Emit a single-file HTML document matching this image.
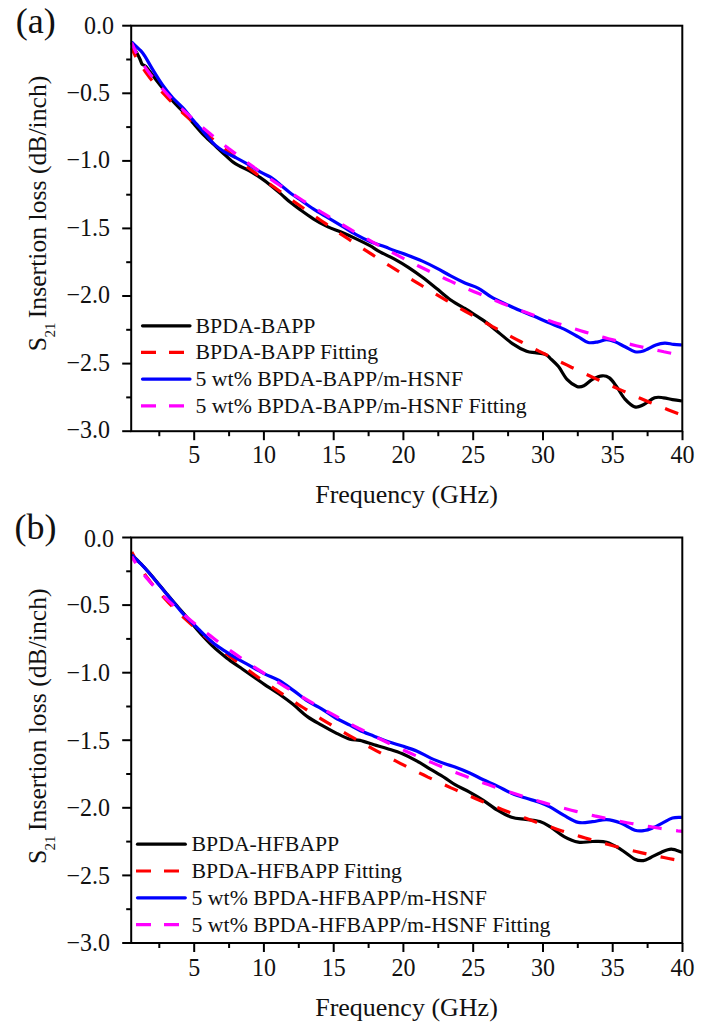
<!DOCTYPE html>
<html><head><meta charset="utf-8"><style>
html,body{margin:0;padding:0;background:#fff;width:707px;height:1032px;overflow:hidden}
svg{display:block}
text{font-family:"Liberation Serif", serif;fill:#111}
</style></head><body>
<svg width="707" height="1032" viewBox="0 0 707 1032">
<g>
<path d="M131.5,42.5 C132.0,43.6 133.4,46.9 134.5,49.0 C135.6,51.1 137.0,53.3 137.9,55.0 C138.8,56.7 139.3,57.7 140.0,59.2 C140.7,60.7 141.2,63.0 142.1,64.2 C143.0,65.4 143.9,64.4 145.7,66.3 C147.5,68.2 150.0,71.9 152.8,75.5 C155.6,79.1 158.7,83.2 162.5,88.0 C166.3,92.8 171.2,99.2 175.5,104.0 C179.8,108.8 185.3,113.6 188.2,116.7 C191.1,119.8 190.2,119.6 192.8,122.7 C195.5,125.8 200.3,131.6 204.1,135.5 C207.9,139.4 211.9,142.8 215.5,146.1 C219.1,149.4 222.1,152.4 225.4,155.3 C228.7,158.2 231.3,161.1 235.3,163.7 C239.3,166.3 245.2,168.4 249.4,170.8 C253.6,173.2 256.9,175.3 260.7,177.9 C264.5,180.5 268.5,183.6 272.0,186.4 C275.5,189.2 278.9,192.3 281.9,194.9 C284.9,197.5 287.1,199.7 290.0,202.0 C292.9,204.3 295.2,206.1 299.1,208.9 C303.0,211.7 308.6,215.9 313.3,218.8 C318.0,221.8 322.7,224.3 327.4,226.6 C332.1,228.8 336.9,230.3 341.6,232.3 C346.3,234.3 351.0,236.4 355.7,238.6 C360.4,240.8 365.8,243.5 369.9,245.7 C373.9,247.9 376.0,249.7 380.0,251.9 C384.0,254.1 389.4,256.3 394.1,258.9 C398.8,261.5 403.6,264.3 408.3,267.4 C413.0,270.5 417.7,273.8 422.4,277.3 C427.1,280.8 431.9,284.8 436.6,288.6 C441.3,292.4 446.0,296.7 450.7,300.0 C455.4,303.3 461.7,306.6 464.9,308.5 C468.1,310.4 466.8,309.6 470.0,311.7 C473.2,313.8 479.4,317.5 484.1,320.9 C488.8,324.3 493.6,328.4 498.3,332.2 C503.0,336.0 507.7,340.4 512.4,343.6 C517.1,346.8 522.8,349.8 526.6,351.3 C530.4,352.8 532.0,352.2 535.1,352.7 C538.2,353.2 542.5,353.3 545.0,354.2 C547.5,355.1 547.8,356.0 550.0,358.1 C552.2,360.2 555.7,363.1 558.5,366.6 C561.3,370.1 563.9,376.0 567.0,379.3 C570.1,382.6 574.1,385.3 576.9,386.4 C579.7,387.5 581.3,386.9 583.9,385.7 C586.5,384.5 589.3,380.9 592.4,379.3 C595.5,377.7 599.5,376.0 602.3,375.8 C605.1,375.6 607.0,376.1 609.4,377.9 C611.8,379.7 613.9,382.9 616.5,386.4 C619.1,389.9 621.9,395.7 625.0,399.1 C628.1,402.5 631.8,405.9 634.9,406.9 C638.0,407.8 640.1,406.3 643.4,404.8 C646.7,403.3 651.2,399.0 654.6,397.8 C658.0,396.6 660.6,397.5 663.6,397.8 C666.6,398.1 669.4,399.2 672.5,399.7 C675.6,400.2 680.4,400.8 682.0,401.0" fill="none" stroke="#000" stroke-width="3.2" stroke-linejoin="round"/>
<path d="M131.5,48.0 L136.1,57.4 L140.8,65.0 L145.4,71.8 L150.0,77.9 L154.6,83.6 L159.3,88.9 L163.9,94.0 L168.5,98.9 L173.2,103.5 L177.8,108.1 L182.4,112.5 L187.1,116.8 L191.7,121.0 L196.3,125.2 L200.9,129.2 L205.6,133.2 L210.2,137.1 L214.8,141.0 L219.5,144.8 L224.1,148.6 L228.7,152.3 L233.4,156.0 L238.0,159.7 L242.6,163.3 L247.2,166.9 L251.9,170.5 L256.5,174.0 L261.1,177.5 L265.8,180.9 L270.4,184.4 L275.0,187.8 L279.7,191.2 L284.3,194.6 L288.9,197.9 L293.5,201.2 L298.2,204.5 L302.8,207.8 L307.4,211.1 L312.1,214.3 L316.7,217.5 L321.3,220.7 L326.0,223.9 L330.6,227.1 L335.2,230.2 L339.8,233.3 L344.5,236.4 L349.1,239.5 L353.7,242.6 L358.4,245.7 L363.0,248.7 L367.6,251.7 L372.3,254.7 L376.9,257.7 L381.5,260.6 L386.1,263.6 L390.8,266.5 L395.4,269.4 L400.0,272.3 L404.7,275.2 L409.3,278.1 L413.9,280.9 L418.5,283.7 L423.2,286.5 L427.8,289.3 L432.4,292.1 L437.1,294.9 L441.7,297.6 L446.3,300.3 L451.0,303.0 L455.6,305.7 L460.2,308.4 L464.8,311.0 L469.5,313.7 L474.1,316.3 L478.7,318.9 L483.4,321.5 L488.0,324.0 L492.6,326.6 L497.3,329.1 L501.9,331.6 L506.5,334.1 L511.1,336.6 L515.8,339.1 L520.4,341.5 L525.0,343.9 L529.7,346.3 L534.3,348.7 L538.9,351.1 L543.6,353.4 L548.2,355.8 L552.8,358.1 L557.4,360.4 L562.1,362.7 L566.7,364.9 L571.3,367.2 L576.0,369.4 L580.6,371.6 L585.2,373.8 L589.9,376.0 L594.5,378.1 L599.1,380.2 L603.7,382.3 L608.4,384.4 L613.0,386.5 L617.6,388.6 L622.3,390.6 L626.9,392.6 L631.5,394.6 L636.2,396.6 L640.8,398.5 L645.4,400.5 L650.0,402.4 L654.7,404.3 L659.3,406.2 L663.9,408.0 L668.6,409.9 L673.2,411.7 L677.8,413.5 L682.5,415.3" fill="none" stroke="#f00" stroke-width="3.2" stroke-dasharray="14.00 14.50" stroke-dashoffset="4.01"/>
<path d="M131.5,41.9 C133.0,43.4 138.4,48.3 140.7,50.7 C142.9,53.1 143.1,53.4 145.0,56.4 C146.9,59.4 149.1,63.6 152.0,68.4 C154.9,73.2 159.2,80.3 162.7,85.2 C166.2,90.1 169.3,94.0 172.9,98.0 C176.5,102.0 180.7,105.3 184.0,109.0 C187.3,112.7 189.5,116.0 192.8,119.9 C196.2,123.8 200.3,128.3 204.1,132.6 C207.9,136.8 211.9,142.1 215.5,145.4 C219.1,148.7 221.9,150.3 225.4,152.4 C228.9,154.5 232.7,156.0 236.7,158.1 C240.7,160.2 245.4,162.8 249.4,165.2 C253.4,167.5 257.2,170.2 260.7,172.2 C264.2,174.2 267.3,175.1 270.6,177.2 C273.9,179.3 277.3,182.4 280.5,185.0 C283.7,187.6 286.9,190.4 290.0,192.7 C293.1,195.0 295.2,196.3 299.1,199.0 C303.0,201.7 308.6,205.8 313.3,208.9 C318.0,212.0 322.7,214.6 327.4,217.4 C332.1,220.2 336.9,223.1 341.6,225.9 C346.3,228.7 351.0,231.8 355.7,234.4 C360.4,237.0 365.0,239.4 369.9,241.5 C374.8,243.6 381.0,245.3 385.0,246.8 C389.0,248.3 390.2,249.1 394.1,250.5 C398.0,251.9 403.6,253.6 408.3,255.4 C413.0,257.2 417.7,259.0 422.4,261.1 C427.1,263.2 431.9,265.6 436.6,268.1 C441.3,270.6 446.0,273.4 450.7,275.9 C455.4,278.4 460.3,280.9 464.9,283.0 C469.5,285.1 474.1,286.1 478.5,288.4 C482.9,290.7 486.7,294.3 491.2,296.9 C495.7,299.5 500.7,301.7 505.4,303.9 C510.1,306.1 514.8,308.3 519.5,310.3 C524.2,312.3 528.9,314.0 533.6,316.0 C538.3,318.0 542.7,320.1 547.8,322.3 C552.9,324.5 559.0,326.7 564.1,329.1 C569.2,331.5 574.3,334.7 578.3,336.9 C582.3,339.1 584.9,341.7 588.2,342.5 C591.5,343.3 595.0,342.3 598.1,341.8 C601.2,341.3 603.8,339.7 606.6,339.7 C609.4,339.7 612.0,340.6 615.1,341.8 C618.2,343.0 621.7,345.2 625.0,346.8 C628.3,348.4 631.8,351.0 634.9,351.7 C638.0,352.4 639.9,352.1 643.4,351.0 C646.9,349.9 652.3,346.3 655.9,345.0 C659.5,343.7 661.8,343.2 664.8,343.1 C667.8,343.0 670.8,344.1 673.7,344.4 C676.6,344.7 680.6,344.9 682.0,345.0" fill="none" stroke="#00f" stroke-width="3.2" stroke-linejoin="round"/>
<path d="M131.5,42.7 L136.1,52.5 L140.8,60.6 L145.4,67.6 L150.0,74.0 L154.6,79.8 L159.3,85.3 L163.9,90.5 L168.5,95.5 L173.2,100.3 L177.8,104.9 L182.4,109.3 L187.1,113.7 L191.7,117.9 L196.3,122.0 L200.9,126.0 L205.6,129.9 L210.2,133.8 L214.8,137.6 L219.5,141.3 L224.1,145.0 L228.7,148.6 L233.4,152.1 L238.0,155.6 L242.6,159.1 L247.2,162.5 L251.9,165.9 L256.5,169.2 L261.1,172.5 L265.8,175.7 L270.4,179.0 L275.0,182.1 L279.7,185.3 L284.3,188.4 L288.9,191.5 L293.5,194.5 L298.2,197.5 L302.8,200.5 L307.4,203.4 L312.1,206.4 L316.7,209.2 L321.3,212.1 L326.0,214.9 L330.6,217.7 L335.2,220.5 L339.8,223.3 L344.5,226.0 L349.1,228.7 L353.7,231.4 L358.4,234.0 L363.0,236.6 L367.6,239.2 L372.3,241.8 L376.9,244.3 L381.5,246.8 L386.1,249.3 L390.8,251.7 L395.4,254.2 L400.0,256.6 L404.7,259.0 L409.3,261.3 L413.9,263.7 L418.5,266.0 L423.2,268.2 L427.8,270.5 L432.4,272.7 L437.1,274.9 L441.7,277.1 L446.3,279.3 L451.0,281.4 L455.6,283.5 L460.2,285.6 L464.8,287.6 L469.5,289.7 L474.1,291.7 L478.7,293.6 L483.4,295.6 L488.0,297.5 L492.6,299.4 L497.3,301.3 L501.9,303.2 L506.5,305.0 L511.1,306.8 L515.8,308.6 L520.4,310.3 L525.0,312.0 L529.7,313.7 L534.3,315.4 L538.9,317.1 L543.6,318.7 L548.2,320.3 L552.8,321.9 L557.4,323.4 L562.1,324.9 L566.7,326.4 L571.3,327.9 L576.0,329.3 L580.6,330.7 L585.2,332.1 L589.9,333.5 L594.5,334.8 L599.1,336.2 L603.7,337.4 L608.4,338.7 L613.0,339.9 L617.6,341.1 L622.3,342.3 L626.9,343.5 L631.5,344.6 L636.2,345.7 L640.8,346.8 L645.4,347.8 L650.0,348.9 L654.7,349.9 L659.3,350.8 L663.9,351.8 L668.6,352.7 L673.2,353.6 L677.8,354.5 L682.5,355.3" fill="none" stroke="#f0f" stroke-width="3.2" stroke-dasharray="14.00 14.40" stroke-dashoffset="2.01"/>
<rect x="131.2" y="25.7" width="551.1" height="405.5" fill="none" stroke="#000" stroke-width="2"/>
<line x1="122.2" y1="25.7" x2="131.2" y2="25.7" stroke="#000" stroke-width="2"/>
<line x1="126.2" y1="59.5" x2="131.2" y2="59.5" stroke="#000" stroke-width="2"/>
<line x1="122.2" y1="93.3" x2="131.2" y2="93.3" stroke="#000" stroke-width="2"/>
<line x1="126.2" y1="127.1" x2="131.2" y2="127.1" stroke="#000" stroke-width="2"/>
<line x1="122.2" y1="160.9" x2="131.2" y2="160.9" stroke="#000" stroke-width="2"/>
<line x1="126.2" y1="194.7" x2="131.2" y2="194.7" stroke="#000" stroke-width="2"/>
<line x1="122.2" y1="228.4" x2="131.2" y2="228.4" stroke="#000" stroke-width="2"/>
<line x1="126.2" y1="262.2" x2="131.2" y2="262.2" stroke="#000" stroke-width="2"/>
<line x1="122.2" y1="296.0" x2="131.2" y2="296.0" stroke="#000" stroke-width="2"/>
<line x1="126.2" y1="329.8" x2="131.2" y2="329.8" stroke="#000" stroke-width="2"/>
<line x1="122.2" y1="363.6" x2="131.2" y2="363.6" stroke="#000" stroke-width="2"/>
<line x1="126.2" y1="397.4" x2="131.2" y2="397.4" stroke="#000" stroke-width="2"/>
<line x1="122.2" y1="431.2" x2="131.2" y2="431.2" stroke="#000" stroke-width="2"/>
<text transform="translate(114.0,34.2) scale(1,1.06)" text-anchor="end" font-size="24">0.0</text>
<text transform="translate(110.0,100.5) scale(1,1.06)" text-anchor="end" font-size="24">−0.5</text>
<text transform="translate(110.0,168.1) scale(1,1.06)" text-anchor="end" font-size="24">−1.0</text>
<text transform="translate(110.0,235.6) scale(1,1.06)" text-anchor="end" font-size="24">−1.5</text>
<text transform="translate(110.0,303.2) scale(1,1.06)" text-anchor="end" font-size="24">−2.0</text>
<text transform="translate(110.0,370.8) scale(1,1.06)" text-anchor="end" font-size="24">−2.5</text>
<text transform="translate(110.0,438.4) scale(1,1.06)" text-anchor="end" font-size="24">−3.0</text>
<line x1="159.3" y1="431.2" x2="159.3" y2="436.2" stroke="#000" stroke-width="2"/>
<line x1="194.2" y1="431.2" x2="194.2" y2="440.2" stroke="#000" stroke-width="2"/>
<text transform="translate(194.2,463.0) scale(1,1.06)" text-anchor="middle" font-size="24">5</text>
<line x1="229.1" y1="431.2" x2="229.1" y2="436.2" stroke="#000" stroke-width="2"/>
<line x1="263.9" y1="431.2" x2="263.9" y2="440.2" stroke="#000" stroke-width="2"/>
<text transform="translate(263.9,463.0) scale(1,1.06)" text-anchor="middle" font-size="24">10</text>
<line x1="298.8" y1="431.2" x2="298.8" y2="436.2" stroke="#000" stroke-width="2"/>
<line x1="333.7" y1="431.2" x2="333.7" y2="440.2" stroke="#000" stroke-width="2"/>
<text transform="translate(333.7,463.0) scale(1,1.06)" text-anchor="middle" font-size="24">15</text>
<line x1="368.6" y1="431.2" x2="368.6" y2="436.2" stroke="#000" stroke-width="2"/>
<line x1="403.4" y1="431.2" x2="403.4" y2="440.2" stroke="#000" stroke-width="2"/>
<text transform="translate(403.4,463.0) scale(1,1.06)" text-anchor="middle" font-size="24">20</text>
<line x1="438.3" y1="431.2" x2="438.3" y2="436.2" stroke="#000" stroke-width="2"/>
<line x1="473.2" y1="431.2" x2="473.2" y2="440.2" stroke="#000" stroke-width="2"/>
<text transform="translate(473.2,463.0) scale(1,1.06)" text-anchor="middle" font-size="24">25</text>
<line x1="508.1" y1="431.2" x2="508.1" y2="436.2" stroke="#000" stroke-width="2"/>
<line x1="543.0" y1="431.2" x2="543.0" y2="440.2" stroke="#000" stroke-width="2"/>
<text transform="translate(543.0,463.0) scale(1,1.06)" text-anchor="middle" font-size="24">30</text>
<line x1="577.8" y1="431.2" x2="577.8" y2="436.2" stroke="#000" stroke-width="2"/>
<line x1="612.7" y1="431.2" x2="612.7" y2="440.2" stroke="#000" stroke-width="2"/>
<text transform="translate(612.7,463.0) scale(1,1.06)" text-anchor="middle" font-size="24">35</text>
<line x1="647.6" y1="431.2" x2="647.6" y2="436.2" stroke="#000" stroke-width="2"/>
<line x1="682.5" y1="431.2" x2="682.5" y2="440.2" stroke="#000" stroke-width="2"/>
<text transform="translate(682.5,463.0) scale(1,1.06)" text-anchor="middle" font-size="24">40</text>
<text x="406.5" y="502.7" text-anchor="middle" font-size="26">Frequency (GHz)</text>
<text transform="translate(45.6,351.3) rotate(-90)" font-size="25.7">S</text>
<text transform="translate(55.4,337.6) rotate(-90)" font-size="15">21</text>
<text transform="translate(45.6,318.2) rotate(-90)" font-size="25.7">Insertion loss (dB/inch)</text>
<text x="15.8" y="33.0" font-size="36">(a)</text>
<line x1="142.5" y1="325.8" x2="190.0" y2="325.8" stroke="#000" stroke-width="3.2" stroke-linecap="round"/>
<text transform="translate(195.5,332.8) scale(1,0.975)" font-size="21.8">BPDA-BAPP</text>
<line x1="141.0" y1="352.4" x2="191.5" y2="352.4" stroke="#f00" stroke-width="3.2" stroke-dasharray="15 13"/>
<text transform="translate(195.5,359.4) scale(1,0.975)" font-size="21.8">BPDA-BAPP Fitting</text>
<line x1="142.5" y1="379.1" x2="190.0" y2="379.1" stroke="#00f" stroke-width="3.2" stroke-linecap="round"/>
<text transform="translate(195.5,386.1) scale(1,0.975)" font-size="21.8">5 wt% BPDA-BAPP/m-HSNF</text>
<line x1="141.0" y1="405.8" x2="191.5" y2="405.8" stroke="#f0f" stroke-width="3.2" stroke-dasharray="15 13"/>
<text transform="translate(195.5,412.8) scale(1,0.975)" font-size="21.8">5 wt% BPDA-BAPP/m-HSNF Fitting</text>
</g>
<g>
<path d="M131.8,554.6 C133.3,556.1 137.8,560.5 140.7,563.5 C143.6,566.5 146.4,569.5 149.2,572.8 C152.0,576.0 154.9,579.6 157.7,583.0 C160.5,586.4 163.4,589.8 166.2,593.2 C169.0,596.6 171.7,599.9 174.7,603.4 C177.7,606.9 180.2,609.4 184.1,614.0 C188.0,618.6 193.6,625.7 198.3,631.0 C203.0,636.3 207.7,641.4 212.4,645.9 C217.1,650.4 221.9,654.2 226.6,657.9 C231.3,661.5 236.0,664.5 240.7,667.8 C245.4,671.1 250.8,674.9 254.9,677.7 C258.9,680.5 261.0,682.1 265.0,684.8 C269.0,687.5 274.4,690.7 279.1,694.0 C283.8,697.3 288.6,700.8 293.3,704.6 C298.0,708.4 302.7,713.2 307.4,716.6 C312.1,720.0 316.9,722.4 321.6,725.1 C326.3,727.8 331.0,730.4 335.7,732.8 C340.4,735.1 345.8,737.9 349.9,739.2 C353.9,740.5 356.0,739.5 360.0,740.4 C364.0,741.3 369.4,743.3 374.1,744.7 C378.8,746.1 383.6,747.4 388.3,748.9 C393.0,750.4 397.7,751.8 402.4,753.8 C407.1,755.8 411.9,758.3 416.6,760.9 C421.3,763.5 426.0,766.6 430.7,769.4 C435.4,772.2 440.8,775.3 444.9,777.9 C448.9,780.5 451.0,782.4 455.0,784.7 C459.0,787.0 464.4,789.2 469.1,791.8 C473.8,794.4 478.6,797.2 483.3,800.3 C488.0,803.4 492.7,807.4 497.4,810.2 C502.1,813.0 506.9,815.7 511.6,817.2 C516.3,818.7 521.0,818.7 525.7,819.4 C530.4,820.1 535.9,820.3 539.9,821.5 C543.9,822.7 546.0,824.2 550.0,826.7 C554.0,829.2 559.4,834.0 564.1,836.6 C568.8,839.2 573.6,841.4 578.3,842.2 C583.0,843.0 587.7,841.5 592.4,841.5 C597.1,841.5 601.9,840.9 606.6,842.2 C611.3,843.5 616.0,846.5 620.7,849.3 C625.4,852.1 631.1,857.3 634.9,859.2 C638.7,861.1 640.8,860.9 643.4,860.6 C646.0,860.3 647.9,858.9 650.8,857.5 C653.7,856.1 657.6,853.8 661.0,852.4 C664.4,851.0 667.7,849.2 671.2,849.2 C674.7,849.2 680.2,851.9 682.0,852.4" fill="none" stroke="#000" stroke-width="3.2" stroke-linejoin="round"/>
<path d="M131.8,552.0 L136.4,561.2 L141.1,568.9 L145.7,575.6 L150.3,581.8 L154.9,587.5 L159.6,592.9 L164.2,598.0 L168.8,602.9 L173.4,607.6 L178.1,612.2 L182.7,616.6 L187.3,620.9 L192.0,625.1 L196.6,629.1 L201.2,633.1 L205.8,637.1 L210.5,640.9 L215.1,644.7 L219.7,648.4 L224.3,652.1 L229.0,655.7 L233.6,659.2 L238.2,662.7 L242.9,666.2 L247.5,669.6 L252.1,673.0 L256.7,676.3 L261.4,679.6 L266.0,682.8 L270.6,686.0 L275.2,689.2 L279.9,692.3 L284.5,695.4 L289.1,698.5 L293.8,701.5 L298.4,704.6 L303.0,707.5 L307.6,710.5 L312.3,713.4 L316.9,716.2 L321.5,719.1 L326.1,721.9 L330.8,724.7 L335.4,727.5 L340.0,730.2 L344.7,732.9 L349.3,735.6 L353.9,738.2 L358.5,740.9 L363.2,743.5 L367.8,746.0 L372.4,748.6 L377.0,751.1 L381.7,753.6 L386.3,756.0 L390.9,758.5 L395.6,760.9 L400.2,763.3 L404.8,765.6 L409.4,768.0 L414.1,770.3 L418.7,772.6 L423.3,774.8 L427.9,777.1 L432.6,779.3 L437.2,781.5 L441.8,783.6 L446.5,785.7 L451.1,787.9 L455.7,789.9 L460.3,792.0 L465.0,794.0 L469.6,796.0 L474.2,798.0 L478.8,800.0 L483.5,801.9 L488.1,803.8 L492.7,805.7 L497.4,807.5 L502.0,809.4 L506.6,811.2 L511.2,813.0 L515.9,814.7 L520.5,816.4 L525.1,818.1 L529.7,819.8 L534.4,821.5 L539.0,823.1 L543.6,824.7 L548.3,826.3 L552.9,827.8 L557.5,829.4 L562.1,830.9 L566.8,832.4 L571.4,833.8 L576.0,835.2 L580.6,836.6 L585.3,838.0 L589.9,839.4 L594.5,840.7 L599.2,842.0 L603.8,843.3 L608.4,844.5 L613.0,845.8 L617.7,847.0 L622.3,848.1 L626.9,849.3 L631.5,850.4 L636.2,851.5 L640.8,852.6 L645.4,853.6 L650.1,854.6 L654.7,855.6 L659.3,856.6 L663.9,857.5 L668.6,858.5 L673.2,859.4 L677.8,860.2 L682.5,861.1" fill="none" stroke="#f00" stroke-width="3.2" stroke-dasharray="14.00 14.48" stroke-dashoffset="3.16"/>
<path d="M131.8,554.8 C133.3,556.3 137.8,560.7 140.7,563.7 C143.6,566.7 146.4,569.8 149.2,573.0 C152.0,576.2 154.9,579.8 157.7,583.2 C160.5,586.6 163.4,590.0 166.2,593.4 C169.0,596.8 171.7,600.0 174.7,603.6 C177.7,607.2 180.2,610.6 184.1,614.8 C188.0,619.0 193.6,624.3 198.3,628.9 C203.0,633.5 207.7,638.4 212.4,642.3 C217.1,646.2 221.9,649.1 226.6,652.2 C231.3,655.3 236.0,658.0 240.7,660.7 C245.4,663.4 250.8,666.3 254.9,668.5 C258.9,670.7 261.0,672.1 265.0,674.1 C269.0,676.1 274.4,677.8 279.1,680.5 C283.8,683.2 288.6,687.0 293.3,690.4 C298.0,693.8 302.7,697.9 307.4,701.0 C312.1,704.1 316.9,706.0 321.6,708.8 C326.3,711.6 331.0,715.3 335.7,718.0 C340.4,720.7 345.8,723.0 349.9,725.1 C353.9,727.2 356.0,728.6 360.0,730.5 C364.0,732.4 369.4,734.3 374.1,736.2 C378.8,738.1 383.6,740.1 388.3,741.8 C393.0,743.4 397.7,744.6 402.4,746.1 C407.1,747.6 411.9,749.0 416.6,751.0 C421.3,753.0 426.0,756.0 430.7,758.1 C435.4,760.2 440.8,762.2 444.9,763.7 C448.9,765.2 451.0,765.5 455.0,767.0 C459.0,768.5 464.4,770.6 469.1,772.7 C473.8,774.8 478.6,777.6 483.3,779.8 C488.0,782.0 492.7,783.9 497.4,786.1 C502.1,788.3 506.9,791.2 511.6,793.2 C516.3,795.2 521.0,796.6 525.7,798.1 C530.4,799.6 535.9,800.9 539.9,802.4 C543.9,803.9 546.0,804.7 550.0,806.9 C554.0,809.1 559.4,812.8 564.1,815.4 C568.8,818.0 573.6,821.3 578.3,822.4 C583.0,823.5 587.7,822.2 592.4,821.7 C597.1,821.2 601.9,819.4 606.6,819.6 C611.3,819.8 616.0,821.3 620.7,823.1 C625.4,824.9 630.9,829.0 634.9,830.2 C638.9,831.4 641.4,830.9 644.5,830.5 C647.6,830.1 650.4,828.8 653.4,827.6 C656.4,826.4 659.1,824.7 662.3,823.1 C665.5,821.5 669.2,819.0 672.5,818.0 C675.8,817.0 680.4,817.5 682.0,817.4" fill="none" stroke="#00f" stroke-width="3.2" stroke-linejoin="round"/>
<path d="M131.8,556.6 L136.4,564.4 L141.1,571.0 L145.7,576.9 L150.3,582.3 L154.9,587.4 L159.6,592.2 L164.2,596.8 L168.8,601.2 L173.4,605.4 L178.1,609.6 L182.7,613.6 L187.3,617.5 L192.0,621.4 L196.6,625.1 L201.2,628.8 L205.8,632.4 L210.5,635.9 L215.1,639.4 L219.7,642.9 L224.3,646.2 L229.0,649.6 L233.6,652.9 L238.2,656.1 L242.9,659.3 L247.5,662.5 L252.1,665.6 L256.7,668.7 L261.4,671.7 L266.0,674.7 L270.6,677.7 L275.2,680.6 L279.9,683.5 L284.5,686.4 L289.1,689.2 L293.8,692.0 L298.4,694.8 L303.0,697.5 L307.6,700.2 L312.3,702.9 L316.9,705.6 L321.5,708.2 L326.1,710.8 L330.8,713.4 L335.4,715.9 L340.0,718.4 L344.7,720.9 L349.3,723.3 L353.9,725.8 L358.5,728.2 L363.2,730.5 L367.8,732.9 L372.4,735.2 L377.0,737.5 L381.7,739.7 L386.3,742.0 L390.9,744.2 L395.6,746.4 L400.2,748.5 L404.8,750.7 L409.4,752.8 L414.1,754.9 L418.7,756.9 L423.3,758.9 L427.9,760.9 L432.6,762.9 L437.2,764.9 L441.8,766.8 L446.5,768.7 L451.1,770.6 L455.7,772.4 L460.3,774.2 L465.0,776.0 L469.6,777.8 L474.2,779.5 L478.8,781.3 L483.5,783.0 L488.1,784.6 L492.7,786.3 L497.4,787.9 L502.0,789.5 L506.6,791.0 L511.2,792.6 L515.9,794.1 L520.5,795.6 L525.1,797.0 L529.7,798.5 L534.4,799.9 L539.0,801.3 L543.6,802.6 L548.3,804.0 L552.9,805.3 L557.5,806.5 L562.1,807.8 L566.8,809.0 L571.4,810.2 L576.0,811.4 L580.6,812.6 L585.3,813.7 L589.9,814.8 L594.5,815.9 L599.2,816.9 L603.8,817.9 L608.4,818.9 L613.0,819.9 L617.7,820.9 L622.3,821.8 L626.9,822.7 L631.5,823.5 L636.2,824.4 L640.8,825.2 L645.4,826.0 L650.1,826.7 L654.7,827.5 L659.3,828.2 L663.9,828.9 L668.6,829.5 L673.2,830.2 L677.8,830.8 L682.5,831.3" fill="none" stroke="#f0f" stroke-width="3.2" stroke-dasharray="14.00 14.58" stroke-dashoffset="6.31"/>
<rect x="131.2" y="537.5" width="551.1" height="405.5" fill="none" stroke="#000" stroke-width="2"/>
<line x1="122.2" y1="537.5" x2="131.2" y2="537.5" stroke="#000" stroke-width="2"/>
<line x1="126.2" y1="571.3" x2="131.2" y2="571.3" stroke="#000" stroke-width="2"/>
<line x1="122.2" y1="605.1" x2="131.2" y2="605.1" stroke="#000" stroke-width="2"/>
<line x1="126.2" y1="638.9" x2="131.2" y2="638.9" stroke="#000" stroke-width="2"/>
<line x1="122.2" y1="672.7" x2="131.2" y2="672.7" stroke="#000" stroke-width="2"/>
<line x1="126.2" y1="706.5" x2="131.2" y2="706.5" stroke="#000" stroke-width="2"/>
<line x1="122.2" y1="740.2" x2="131.2" y2="740.2" stroke="#000" stroke-width="2"/>
<line x1="126.2" y1="774.0" x2="131.2" y2="774.0" stroke="#000" stroke-width="2"/>
<line x1="122.2" y1="807.8" x2="131.2" y2="807.8" stroke="#000" stroke-width="2"/>
<line x1="126.2" y1="841.6" x2="131.2" y2="841.6" stroke="#000" stroke-width="2"/>
<line x1="122.2" y1="875.4" x2="131.2" y2="875.4" stroke="#000" stroke-width="2"/>
<line x1="126.2" y1="909.2" x2="131.2" y2="909.2" stroke="#000" stroke-width="2"/>
<line x1="122.2" y1="943.0" x2="131.2" y2="943.0" stroke="#000" stroke-width="2"/>
<text transform="translate(114.0,547.0) scale(1,1.06)" text-anchor="end" font-size="24">0.0</text>
<text transform="translate(110.0,613.3) scale(1,1.06)" text-anchor="end" font-size="24">−0.5</text>
<text transform="translate(110.0,680.9) scale(1,1.06)" text-anchor="end" font-size="24">−1.0</text>
<text transform="translate(110.0,748.5) scale(1,1.06)" text-anchor="end" font-size="24">−1.5</text>
<text transform="translate(110.0,816.0) scale(1,1.06)" text-anchor="end" font-size="24">−2.0</text>
<text transform="translate(110.0,883.6) scale(1,1.06)" text-anchor="end" font-size="24">−2.5</text>
<text transform="translate(110.0,951.2) scale(1,1.06)" text-anchor="end" font-size="24">−3.0</text>
<line x1="159.3" y1="943.0" x2="159.3" y2="948.0" stroke="#000" stroke-width="2"/>
<line x1="194.2" y1="943.0" x2="194.2" y2="952.0" stroke="#000" stroke-width="2"/>
<text transform="translate(194.2,975.8) scale(1,1.06)" text-anchor="middle" font-size="24">5</text>
<line x1="229.1" y1="943.0" x2="229.1" y2="948.0" stroke="#000" stroke-width="2"/>
<line x1="263.9" y1="943.0" x2="263.9" y2="952.0" stroke="#000" stroke-width="2"/>
<text transform="translate(263.9,975.8) scale(1,1.06)" text-anchor="middle" font-size="24">10</text>
<line x1="298.8" y1="943.0" x2="298.8" y2="948.0" stroke="#000" stroke-width="2"/>
<line x1="333.7" y1="943.0" x2="333.7" y2="952.0" stroke="#000" stroke-width="2"/>
<text transform="translate(333.7,975.8) scale(1,1.06)" text-anchor="middle" font-size="24">15</text>
<line x1="368.6" y1="943.0" x2="368.6" y2="948.0" stroke="#000" stroke-width="2"/>
<line x1="403.4" y1="943.0" x2="403.4" y2="952.0" stroke="#000" stroke-width="2"/>
<text transform="translate(403.4,975.8) scale(1,1.06)" text-anchor="middle" font-size="24">20</text>
<line x1="438.3" y1="943.0" x2="438.3" y2="948.0" stroke="#000" stroke-width="2"/>
<line x1="473.2" y1="943.0" x2="473.2" y2="952.0" stroke="#000" stroke-width="2"/>
<text transform="translate(473.2,975.8) scale(1,1.06)" text-anchor="middle" font-size="24">25</text>
<line x1="508.1" y1="943.0" x2="508.1" y2="948.0" stroke="#000" stroke-width="2"/>
<line x1="543.0" y1="943.0" x2="543.0" y2="952.0" stroke="#000" stroke-width="2"/>
<text transform="translate(543.0,975.8) scale(1,1.06)" text-anchor="middle" font-size="24">30</text>
<line x1="577.8" y1="943.0" x2="577.8" y2="948.0" stroke="#000" stroke-width="2"/>
<line x1="612.7" y1="943.0" x2="612.7" y2="952.0" stroke="#000" stroke-width="2"/>
<text transform="translate(612.7,975.8) scale(1,1.06)" text-anchor="middle" font-size="24">35</text>
<line x1="647.6" y1="943.0" x2="647.6" y2="948.0" stroke="#000" stroke-width="2"/>
<line x1="682.5" y1="943.0" x2="682.5" y2="952.0" stroke="#000" stroke-width="2"/>
<text transform="translate(682.5,975.8) scale(1,1.06)" text-anchor="middle" font-size="24">40</text>
<text x="406.5" y="1015.5" text-anchor="middle" font-size="26">Frequency (GHz)</text>
<text transform="translate(45.6,864.1) rotate(-90)" font-size="25.7">S</text>
<text transform="translate(55.4,850.4) rotate(-90)" font-size="15">21</text>
<text transform="translate(45.6,831.0) rotate(-90)" font-size="25.7">Insertion loss (dB/inch)</text>
<text x="14.6" y="539.0" font-size="36">(b)</text>
<line x1="137.5" y1="844.2" x2="185.3" y2="844.2" stroke="#000" stroke-width="3.2" stroke-linecap="round"/>
<text transform="translate(191.5,851.2) scale(1,0.975)" font-size="21.8">BPDA-HFBAPP</text>
<line x1="136.0" y1="871.0" x2="186.8" y2="871.0" stroke="#f00" stroke-width="3.2" stroke-dasharray="15 13"/>
<text transform="translate(191.5,878.0) scale(1,0.975)" font-size="21.8">BPDA-HFBAPP Fitting</text>
<line x1="137.5" y1="897.8" x2="185.3" y2="897.8" stroke="#00f" stroke-width="3.2" stroke-linecap="round"/>
<text transform="translate(191.5,904.8) scale(1,0.975)" font-size="21.8">5 wt% BPDA-HFBAPP/m-HSNF</text>
<line x1="136.0" y1="924.6" x2="186.8" y2="924.6" stroke="#f0f" stroke-width="3.2" stroke-dasharray="15 13"/>
<text transform="translate(191.5,931.6) scale(1,0.975)" font-size="21.8">5 wt% BPDA-HFBAPP/m-HSNF Fitting</text>
</g>
</svg></body></html>
